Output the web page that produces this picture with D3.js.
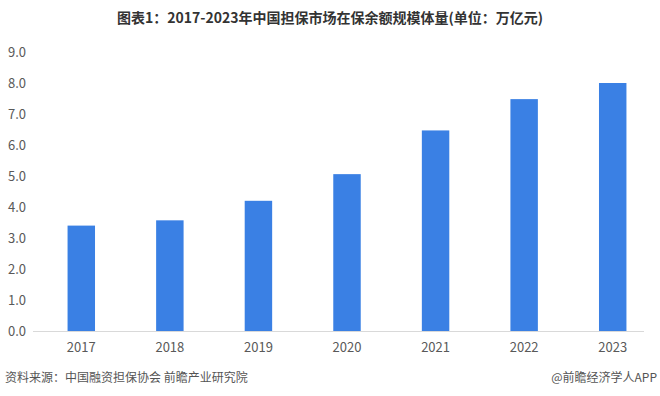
<!DOCTYPE html>
<html><head><meta charset="utf-8">
<script src="https://cdn.jsdelivr.net/npm/d3@7"></script>
<style>body{margin:0;background:#fff}svg{display:block}</style>
</head><body>
<svg id="c" width="660" height="396"></svg>
<script>
const years = ["2017","2018","2019","2020","2021","2022","2023"];
const values = [3.4, 3.57, 4.2, 5.06, 6.47, 7.48, 8.0];
const yTicks = [0,1,2,3,4,5,6,7,8,9];
const title = "图表1：2017-2023年中国担保市场在保余额规模体量(单位：万亿元)";
const source = "资料来源：中国融资担保协会 前瞻产业研究院";
const credit = "@前瞻经济学人APP";

const svg = d3.select("#c");
const font = "'Noto Sans CJK SC', 'Noto Sans', sans-serif";
const x = d3.scaleBand().domain(years).range([37,657]).paddingInner(0.69).paddingOuter(0.345);
const y = d3.scaleLinear().domain([0,9]).range([331,52]);

svg.append("text").attr("x",330).attr("y",23).attr("text-anchor","middle")
  .attr("font-family",font).attr("font-weight","bold").attr("font-size",14).attr("fill","#333")
  .text(title);

// y labels
const ya = svg.append("g").attr("transform","translate(26,0)")
  .call(d3.axisLeft(y).tickValues(yTicks).tickFormat(d3.format(".1f")).tickSize(0).tickPadding(0));
ya.select(".domain").remove();
ya.selectAll("text").attr("font-family",font).attr("font-size",13).attr("fill","#595959");

// baseline
svg.append("line").attr("x1",33).attr("x2",644).attr("y1",y(0)+0.5).attr("y2",y(0)+0.5)
  .attr("stroke","#d9d9d9").attr("stroke-width",1);

svg.append("g").selectAll("rect").data(values).join("rect")
  .attr("x",(d,i)=>x(years[i])).attr("width",x.bandwidth())
  .attr("y",d=>y(d)).attr("height",d=>y(0)-y(d)).attr("fill","#3a80e4");

const xa = svg.append("g").attr("transform",`translate(0,${y(0)})`)
  .call(d3.axisBottom(x).tickSize(0).tickPadding(12));
xa.select(".domain").remove();
xa.selectAll("text").attr("font-family",font).attr("font-size",13).attr("fill","#595959");

svg.append("text").attr("x",5).attr("y",382).attr("font-family",font).attr("font-size",12)
  .attr("fill","#555").text(source);
svg.append("text").attr("x",657).attr("y",382).attr("text-anchor","end").attr("font-family",font)
  .attr("font-size",12).attr("fill","#555").text(credit);
</script>
</body></html>
